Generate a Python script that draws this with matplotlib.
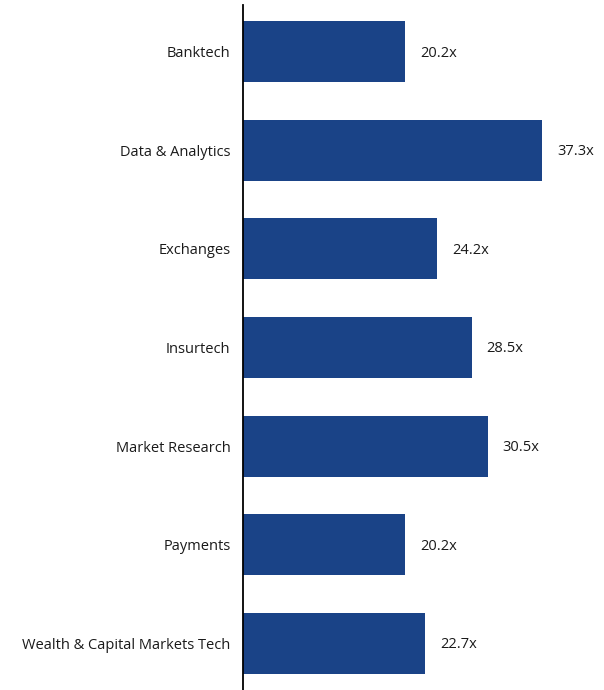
import matplotlib.pyplot as plt
from matplotlib.transforms import offset_copy

categories = ["Banktech", "Data & Analytics", "Exchanges", "Insurtech",
              "Market Research", "Payments", "Wealth & Capital Markets Tech"]
multiples = [20.2, 37.3, 24.2, 28.5, 30.5, 20.2, 22.7]
value_labels = ["20.2x", "37.3x", "24.2x", "28.5x", "30.5x", "20.2x", "22.7x"]

plt.rcParams['font.family'] = ['Open Sans', 'DejaVu Sans']

fig = plt.figure(figsize=(6.04, 6.90), dpi=100)
ax = fig.add_axes([243 / 604, 0, 361 / 604, 685 / 690])

y = list(range(len(categories)))
ax.barh(y, multiples, height=0.62, color="#1a4387")

ax.set_xlim(0, 45)
ax.set_ylim(6.475, -0.475)

trans = offset_copy(ax.transData, fig=fig, x=15, y=-1.5, units="dots")
for yi, v, lab in zip(y, multiples, value_labels):
    ax.text(v, yi, lab, transform=trans, va="center", ha="left",
            fontsize=10.5, color="#1a1a1a")

ax.set_yticks(y)
ax.set_yticklabels(categories, fontsize=10.5, color="#1a1a1a")
ax.tick_params(axis="y", length=0, pad=9)
ax.set_xticks([])

for side in ["top", "right", "bottom"]:
    ax.spines[side].set_visible(False)
ax.spines["left"].set_linewidth(1.3)
ax.spines["left"].set_color("black")

fig.savefig("out.png", dpi=100)
